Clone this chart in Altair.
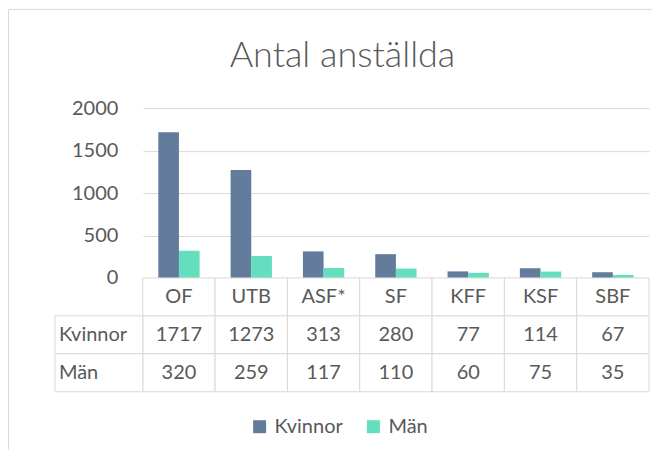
import altair as alt
import pandas as pd

categories = ["OF", "UTB", "ASF*", "SF", "KFF", "KSF", "SBF"]
kvinnor = [1717, 1273, 313, 280, 77, 114, 67]
man = [320, 259, 117, 110, 60, 75, 35]
series = ["Kvinnor", "Män"]
rows = ["hdr", "Kvinnor", "Män"]
y_ticks = [0, 500, 1000, 1500, 2000]
title_text = "Antal anställda"

FONT = "Lato"
GRAY = "#595959"
LINE = "#D9D9D9"
COLORS = ["#637C9C", "#63DFBF"]

bars_df = pd.DataFrame(
    [{"category": c, "series": "Kvinnor", "value": v} for c, v in zip(categories, kvinnor)]
    + [{"category": c, "series": "Män", "value": v} for c, v in zip(categories, man)]
)
table_df = pd.DataFrame(
    [{"category": c, "row": "hdr", "text": c} for c in categories]
    + [{"category": c, "row": "Kvinnor", "text": str(v)} for c, v in zip(categories, kvinnor)]
    + [{"category": c, "row": "Män", "text": str(v)} for c, v in zip(categories, man)]
)
rowhead_df = pd.DataFrame({"row": series, "text": series})
one = pd.DataFrame({"t": [title_text]})

x_enc = alt.X("category:N", sort=categories,
              scale=alt.Scale(domain=categories, paddingInner=0, paddingOuter=0), axis=None)
y_tab = alt.Y("row:N", sort=rows,
              scale=alt.Scale(domain=rows, range=[170, 284], paddingInner=0, paddingOuter=0),
              axis=None)

bars = alt.Chart(bars_df).mark_bar().encode(
    x=x_enc,
    xOffset=alt.XOffset("series:N", sort=series,
                        scale=alt.Scale(domain=series, paddingInner=0, paddingOuter=0.75)),
    y=alt.Y("value:Q",
            scale=alt.Scale(domain=[0, 2000], range=[170, 0], nice=False),
            axis=alt.Axis(values=y_ticks, format="d", grid=True, gridColor=LINE, domain=False,
                          ticks=False, labelPadding=25, labelFontSize=20, labelColor=GRAY,
                          labelFont=FONT, title=None)),
    color=alt.Color("series:N", sort=series,
                    scale=alt.Scale(domain=series, range=COLORS),
                    legend=alt.Legend(orient="none", legendX=107, legendY=309,
                                      direction="horizontal", title=None, symbolType="square",
                                      symbolSize=169, symbolStrokeWidth=0, labelFontSize=20,
                                      labelColor=GRAY, labelFont=FONT, labelOffset=5,
                                      columnPadding=20)),
)

cells = alt.Chart(table_df).mark_rect(fill="white", stroke=LINE, strokeWidth=1).encode(
    x=x_enc, y=y_tab)
cell_text = alt.Chart(table_df).mark_text(fontSize=20, color=GRAY, font=FONT,
                                          baseline="middle").encode(
    x=x_enc, y=y_tab, text="text:N")

row_cells = alt.Chart(rowhead_df).mark_rect(fill="white", stroke=LINE, strokeWidth=1).encode(
    x=alt.value(-88), x2=alt.value(0), y=y_tab)
row_text = alt.Chart(rowhead_df).mark_text(fontSize=20, color=GRAY, font=FONT, align="left",
                                           baseline="middle").encode(
    x=alt.value(-84), y=y_tab, text="text:N")

frame_left = alt.Chart(one).mark_rule(color=LINE, strokeWidth=1).encode(
    x=alt.value(-134.5), y=alt.value(-99), y2=alt.value(342))
frame_top = alt.Chart(one).mark_rule(color=LINE, strokeWidth=1).encode(
    x=alt.value(-134.5), x2=alt.value(510), y=alt.value(-99))
title = alt.Chart(one).mark_text(fontSize=36, color=GRAY, font=FONT, fontWeight=300,
                                 baseline="middle", align="center").encode(
    x=alt.value(200), y=alt.value(-52), text="t:N")

chart = alt.layer(
    frame_left, frame_top, title, bars, cells, cell_text, row_cells, row_text
).resolve_scale(y="independent").properties(
    width=507, height=284, padding=0
).configure_view(stroke=None)

chart.save("out.html", embed_options={"renderer": "svg", "actions": False})
